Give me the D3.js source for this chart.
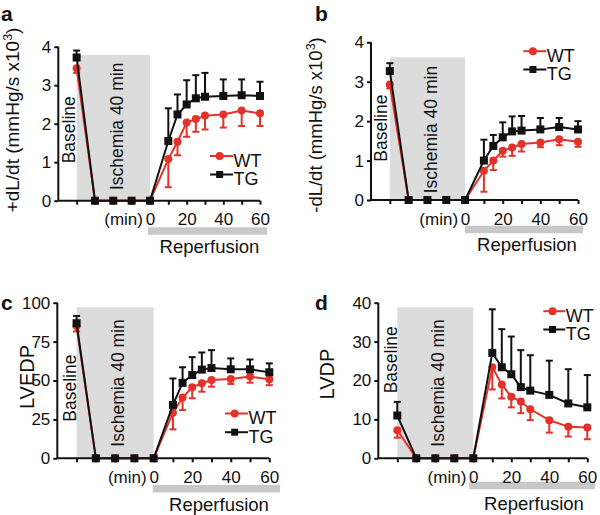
<!DOCTYPE html>
<html><head><meta charset="utf-8">
<script src="https://cdn.jsdelivr.net/npm/d3@7"></script>
<style>
body{margin:0;background:#fff}
svg{display:block}
text{font-family:"Liberation Sans",Arial,Helvetica,sans-serif;fill:#111}
</style>
</head><body>
<svg id="chart" width="600" height="515"></svg>
<script>
// ---------- data ----------
const timePoints = [-40, -30, -20, -10, 0, 10, 15, 20, 25, 30, 40, 50, 60];
const xTickValues = [-40, -30, -20, -10, 0, 10, 20, 30, 40, 50, 60];
const xTickLabels = [0, 20, 40, 60];
const seriesNames = ["WT", "TG"];

// panel a: +dL/dt
const aWT    = [3.44, 0, 0, 0, 0, 1.08, 1.53, 2.03, 2.12, 2.21, 2.24, 2.34, 2.27];
const aWTerr = [0.12, 0, 0, 0, 0, 0.73, 0.35, 0.37, 0.33, 0.36, 0.34, 0.40, 0.33];
const aTG    = [3.72, 0, 0, 0, 0, 1.55, 2.24, 2.50, 2.66, 2.70, 2.72, 2.74, 2.72];
const aTGerr = [0.18, 0, 0, 0, 0, 0.85, 0.52, 0.63, 0.60, 0.62, 0.43, 0.41, 0.37];
const aYTicks = [0, 1, 2, 3, 4];

// panel b: -dL/dt
const bWT    = [2.93, 0, 0, 0, 0, 0.74, 1.00, 1.25, 1.33, 1.42, 1.46, 1.54, 1.48];
const bWTerr = [0.10, 0, 0, 0, 0, 0.53, 0.24, 0.15, 0.21, 0.19, 0.12, 0.15, 0.13];
const bTG    = [3.27, 0, 0, 0, 0, 1.00, 1.37, 1.59, 1.74, 1.76, 1.79, 1.85, 1.79];
const bTGerr = [0.20, 0, 0, 0, 0, 0.53, 0.28, 0.38, 0.38, 0.37, 0.29, 0.23, 0.21];
const bYTicks = [0, 1, 2, 3, 4];

// panel c: LVEDP
const cWT    = [85.0, 0, 0, 0, 0, 29.3, 39.0, 45.6, 48.2, 50.3, 51.0, 52.5, 50.8];
const cWTerr = [3.5, 0, 0, 0, 0, 10.7, 8.0, 7.0, 5.4, 4.3, 3.2, 3.9, 3.8];
const cTG    = [86.8, 0, 0, 0, 0, 34.3, 48.5, 53.5, 57.0, 58.0, 57.2, 57.2, 55.3];
const cTGerr = [4.7, 0, 0, 0, 0, 17.0, 10.0, 11.5, 11.0, 11.5, 7.0, 6.3, 5.7];
const cYTicks = [0, 25, 50, 75, 100];

// panel d: LVDP
const dWT    = [7.2, 0, 0, 0, 0, 23.4, 19.0, 15.8, 14.6, 12.6, 9.8, 8.1, 7.9];
const dWTerr = [1.9, 0, 0, 0, 0, 5.7, 3.6, 2.7, 3.0, 2.8, 3.2, 2.5, 3.0];
const dTG    = [11.0, 0, 0, 0, 0, 27.1, 23.4, 21.6, 18.3, 17.4, 16.3, 14.1, 13.1];
const dTGerr = [3.5, 0, 0, 0, 0, 11.2, 9.8, 9.7, 9.5, 9.1, 8.8, 8.8, 8.3];
const dYTicks = [0, 10, 20, 30, 40];

const ischemiaRange = [-40, 0];
const reperfusionRange = [0, 60];
const xDomain = [-50, 60];

// ---------- layout ----------
const RED = "#e3322a", BLACK = "#111";
const panels = [
  {label:"a", title:["+dL/dt (mmHg/s x10", "3", ")"], tfs:19, wt:aWT, wtErr:aWTerr, tg:aTG, tgErr:aTGerr, yTicks:aYTicks,
   xr:[58.3, 260], yr:[200.7, 46.7], grayTop:55, lab:[1, 21], tt:[19, 120],
   base:[75, 163.3], isch:[123, 190], bar:[148, 267, 227.3], rep:[209.5, 252.5],
   leg:{x:210, yb:[166.5, 185], len:23}},
  {label:"b", title:["-dL/dt (mmHg/s x10", "3", ")"], tfs:18.5, wt:bWT, wtErr:bWTerr, tg:bTG, tgErr:bTGerr, yTicks:bYTicks,
   xr:[371, 578], yr:[200, 42.3], grayTop:57.3, lab:[315, 20.5], tt:[322, 125],
   base:[387.3, 161.7], isch:[436.7, 193.3], bar:[465, 583, 225.7], rep:[527, 251],
   leg:{x:523.3, yb:[61.7, 80], len:23}},
  {label:"c", title:["LVEDP"], tfs:20, wt:cWT, wtErr:cWTerr, tg:cTG, tgErr:cTGerr, yTicks:cYTicks,
   xr:[57.3, 269.3], yr:[458.3, 302.7], grayTop:307.3, lab:[1, 310], tt:[34, 377],
   base:[76, 421.7], isch:[124, 446.7], bar:[152.7, 280, 485], rep:[219, 510.5],
   leg:{x:225, yb:[424, 442.7], len:23}},
  {label:"d", title:["LVDP"], tfs:20, wt:dWT, wtErr:dWTerr, tg:dTG, tgErr:dTGerr, yTicks:dYTicks,
   xr:[378.3, 587.3], yr:[458.3, 302.7], grayTop:307.3, lab:[315, 310], tt:[334, 374],
   base:[396.7, 393.3], isch:[444, 446.7], bar:[469, 595, 481.7], rep:[534, 510],
   leg:{x:543.3, yb:[321.7, 340], len:22}}
];

const svg = d3.select("#chart");

panels.forEach(p => {
  const yMax = p.yTicks[p.yTicks.length - 1];
  const x = d3.scaleLinear().domain(xDomain).range(p.xr);
  const y = d3.scaleLinear().domain([0, yMax]).range(p.yr);
  const g = svg.append("g");

  // ischemia shaded box
  g.append("rect")
    .attr("x", x(ischemiaRange[0])).attr("y", p.grayTop)
    .attr("width", x(ischemiaRange[1]) - x(ischemiaRange[0]))
    .attr("height", y(0) - p.grayTop)
    .attr("fill", "#dcdcdc");

  // reperfusion bar
  g.append("rect")
    .attr("x", p.bar[0]).attr("y", p.bar[2])
    .attr("width", p.bar[1] - p.bar[0]).attr("height", 7.5)
    .attr("fill", "#c8c8c8");
  g.append("text").attr("x", p.rep[0]).attr("y", p.rep[1])
    .attr("text-anchor", "middle").style("font-size", "18.5px").text("Reperfusion");

  // y axis
  const yAxis = d3.axisLeft(y).tickValues(p.yTicks).tickSize(4).tickPadding(3).tickFormat(d3.format("d"));
  const ya = g.append("g").attr("transform", `translate(${p.xr[0]},0)`).call(yAxis);
  ya.select(".domain").attr("stroke", BLACK).attr("stroke-width", 2)
    .attr("d", `M0,${y(0)}V${y(yMax)}`);
  ya.selectAll(".tick line").attr("stroke", BLACK).attr("stroke-width", 2);
  ya.selectAll(".tick text").style("font-size", "17px").attr("fill", "#111").attr("font-family", null);

  // x axis
  const xAxis = d3.axisBottom(x).tickValues(xTickValues).tickSize(4)
    .tickFormat(d => xTickLabels.includes(d) ? d : "");
  const xa = g.append("g").attr("transform", `translate(0,${y(0)})`).call(xAxis);
  xa.select(".domain").attr("stroke", BLACK).attr("stroke-width", 2)
    .attr("d", `M${x(xDomain[0])},0H${x(xDomain[1])}`);
  xa.selectAll(".tick line").attr("stroke", BLACK).attr("stroke-width", 2);
  xa.selectAll(".tick text").style("font-size", "17px").attr("fill", "#111")
    .attr("y", null).attr("dy", null).attr("transform", "translate(0,24.5)").attr("font-family", null);
  g.append("text").attr("x", x(0) - 7).attr("y", y(0) + 24.5)
    .attr("text-anchor", "end").style("font-size", "17px").text("(min)");

  // y title
  const t = g.append("text")
    .attr("transform", `translate(${p.tt[0]},${p.tt[1]}) rotate(-90)`)
    .attr("text-anchor", "middle").style("font-size", p.tfs + "px");
  t.append("tspan").text(p.title[0]);
  if (p.title.length > 1) {
    t.append("tspan").attr("dy", -7).style("font-size", "12.5px").text(p.title[1]);
    t.append("tspan").attr("dy", 7).text(p.title[2]);
  }

  // panel letter
  g.append("text").attr("x", p.lab[0]).attr("y", p.lab[1])
    .style("font-size", "21px").style("font-weight", "bold").text(p.label);

  // rotated annotations
  g.append("text").attr("transform", `translate(${p.base[0]},${p.base[1]}) rotate(-90)`)
    .style("font-size", "17.5px").text("Baseline");
  g.append("text").attr("transform", `translate(${p.isch[0]},${p.isch[1]}) rotate(-90)`)
    .style("font-size", "17.5px").text("Ischemia 40 min");

  // series
  const series = [
    {name: seriesNames[0], vals: p.wt, err: p.wtErr, color: RED, dir: -1, shape: "circle"},
    {name: seriesNames[1], vals: p.tg, err: p.tgErr, color: BLACK, dir: 1, shape: "square"}
  ];
  const line = d3.line().x(d => x(d.t)).y(d => y(d.v));
  series.forEach(s => {
    const pts = timePoints.map((t, i) => ({t, v: s.vals[i], e: s.err[i]}));
    const sg = g.append("g");
    pts.filter(d => d.e > 0).forEach(d => {
      const yEnd = y(d.v + s.dir * d.e);
      sg.append("line").attr("x1", x(d.t)).attr("x2", x(d.t))
        .attr("y1", y(d.v)).attr("y2", yEnd)
        .attr("stroke", s.color).attr("stroke-width", 2);
      sg.append("line").attr("x1", x(d.t) - 3.5).attr("x2", x(d.t) + 3.5)
        .attr("y1", yEnd).attr("y2", yEnd)
        .attr("stroke", s.color).attr("stroke-width", 2);
    });
    sg.append("path").datum(pts).attr("d", line)
      .attr("fill", "none").attr("stroke", s.color).attr("stroke-width", 2);
    if (s.shape === "circle") {
      sg.selectAll("circle").data(pts).join("circle")
        .attr("cx", d => x(d.t)).attr("cy", d => y(d.v)).attr("r", 4).attr("fill", s.color);
    } else {
      sg.selectAll("rect").data(pts).join("rect")
        .attr("x", d => x(d.t) - 4).attr("y", d => y(d.v) - 4)
        .attr("width", 8).attr("height", 8).attr("fill", s.color);
    }
  });

  // legend
  series.forEach((s, i) => {
    const ly = p.leg.yb[i];
    const lg = g.append("g");
    lg.append("line").attr("x1", p.leg.x).attr("x2", p.leg.x + p.leg.len)
      .attr("y1", ly - 10.5).attr("y2", ly - 10.5)
      .attr("stroke", s.color).attr("stroke-width", 2);
    const mx = p.leg.x + p.leg.len * 0.42;
    if (s.shape === "circle") {
      lg.append("circle").attr("cx", mx).attr("cy", ly - 10.5).attr("r", 4).attr("fill", s.color);
    } else {
      lg.append("rect").attr("x", mx - 3.5).attr("y", ly - 14).attr("width", 7).attr("height", 7).attr("fill", s.color);
    }
    lg.append("text").attr("x", p.leg.x + p.leg.len + 0.5).attr("y", ly)
      .style("font-size", "18px").text(s.name);
  });
});
</script>
</body></html>
